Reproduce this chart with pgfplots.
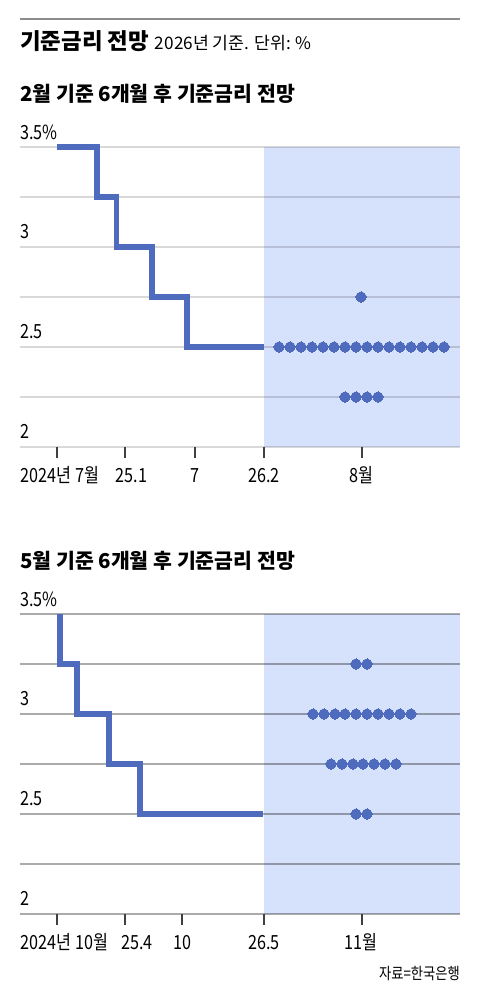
\documentclass[border=0pt]{standalone}
\usepackage{fontspec}
\setmainfont{Noto Sans CJK KR}
\newfontfamily\narrow{Noto Sans CJK KR}[FakeStretch=0.83]
\usepackage{pgfplots}
\usepackage{pgfplotstable}
\pgfplotsset{compat=1.18}

\definecolor{linecol}{RGB}{79,107,189}
\definecolor{shade}{RGB}{214,225,252}
\definecolor{rule}{RGB}{140,140,140}

% step line: x in pixel positions along the time axis
\pgfplotstableread{
x y
57 3.5
97 3.25
116.5 3.0
152 2.75
187 2.5
264 2.5
}\stepA
\pgfplotstableread{
x y
60 3.5
60 3.25
77 3.0
109 2.75
140 2.5
262.7 2.5
}\stepB

\pgfplotsset{
  panel/.style={
    scale only axis, width=440pt, height=300pt,
    xmin=20, xmax=460, ymin=2, ymax=3.5,
    clip=false, set layers,
    axis line style={draw=none},
    ytick={2,2.25,2.5,2.75,3,3.25,3.5}, yticklabels={},
    ytick style={draw=none}, ymajorgrids,
    xticklabels={}, xtick pos=bottom, tick align=outside,
    major tick length=11pt,
    xtick style={draw=black!75, line width=1.2pt},
  },
  dots/.style={only marks, mark=*, mark size=5.2pt, color=linecol,
    mark options={draw=linecol, fill=linecol, line width=0pt}},
  stepline/.style={const plot, draw=linecol, line width=5.3pt,
    line join=miter, line cap=butt, mark=none},
}
\tikzset{lab/.style={inner sep=0pt, font=\narrow\fontsize{19.5}{22}\selectfont}}

\begin{document}
\begin{tikzpicture}
\path (0pt,0pt) rectangle (480pt,1000pt);
\draw[rule, line width=2pt] (20pt,980.5pt) -- (460pt,980.5pt);
\node[anchor=base west, inner sep=0pt] at (20pt,950pt)
  {{\fontsize{22.4}{25}\bfseries 기준금리 전망}\hspace{6pt}{\fontsize{17.2}{20}\selectfont 2026년 기준. 단위: \%}};
\node[anchor=base west, inner sep=0pt, font=\fontsize{20.5}{24}\bfseries] at (20pt,898pt)
  {2월 기준 6개월 후 기준금리 전망};
\node[anchor=base west, inner sep=0pt, font=\fontsize{20.5}{24}\bfseries] at (20pt,431pt)
  {5월 기준 6개월 후 기준금리 전망};
\node[anchor=base east, inner sep=0pt, font=\narrow\fontsize{16}{18}\selectfont] at (460pt,20pt)
  {자료=한국은행};

% panel 1
\begin{axis}[panel, at={(20pt,553pt)}, anchor=south west,
  xtick={57,125,195,264,362},
  grid style={black, opacity=0.15, line width=2pt}]
\addplot[fill=shade, draw=none, on layer=axis background]
  coordinates {(264,2) (460,2) (460,3.5) (264,3.5)} -- cycle;
\addplot[stepline] table[x=x, y=y] {\stepA};
\addplot[dots] coordinates {(361,2.75)};
\addplot[dots] coordinates {
  (279,2.5)(290,2.5)(301,2.5)(312,2.5)(323,2.5)(334,2.5)(345,2.5)(356,2.5)
  (367,2.5)(378,2.5)(389,2.5)(400,2.5)(411,2.5)(422,2.5)(433,2.5)(444,2.5)};
\addplot[dots] coordinates {(345,2.25)(356,2.25)(367,2.25)(378,2.25)};
\node[lab, anchor=base west, yshift=7.5pt] at (axis cs:20,3.5) {3.5\%};
\node[lab, anchor=base west, yshift=8pt] at (axis cs:20,3) {3};
\node[lab, anchor=base west, yshift=8pt] at (axis cs:20,2.5) {2.5};
\node[lab, anchor=base west, yshift=8pt] at (axis cs:20,2) {2};
\node[lab, anchor=base west, yshift=-36pt] at (axis cs:20.5,2) {2024년 7월};
\node[lab, anchor=base, yshift=-36pt] at (axis cs:131.5,2) {25.1};
\node[lab, anchor=base, yshift=-36pt] at (axis cs:195,2) {7};
\node[lab, anchor=base, yshift=-36pt] at (axis cs:264,2) {26.2};
\node[lab, anchor=base, yshift=-36pt] at (axis cs:361,2) {8월};
\end{axis}

% panel 2
\begin{axis}[panel, at={(20pt,86pt)}, anchor=south west,
  xtick={57,125,182,264,362},
  grid style={black, opacity=0.33, line width=1.3pt}]
\addplot[fill=shade, draw=none, on layer=axis background]
  coordinates {(264,2) (460,2) (460,3.5) (264,3.5)} -- cycle;
\addplot[stepline] table[x=x, y=y] {\stepB};
\addplot[dots] coordinates {(356,3.25)(367,3.25)};
\addplot[dots] coordinates {
  (313,3)(324,3)(335,3)(345,3)(356,3)(367,3)(378,3)(389,3)(400,3)(411,3)};
\addplot[dots] coordinates {
  (331,2.75)(342,2.75)(353,2.75)(363,2.75)(374,2.75)(385,2.75)(396,2.75)};
\addplot[dots] coordinates {(356,2.5)(367,2.5)};
\node[lab, anchor=base west, yshift=7.5pt] at (axis cs:20,3.5) {3.5\%};
\node[lab, anchor=base west, yshift=8pt] at (axis cs:20,3) {3};
\node[lab, anchor=base west, yshift=8pt] at (axis cs:20,2.5) {2.5};
\node[lab, anchor=base west, yshift=8pt] at (axis cs:20,2) {2};
\node[lab, anchor=base west, yshift=-36pt] at (axis cs:20.5,2) {2024년 10월};
\node[lab, anchor=base, yshift=-36pt] at (axis cs:137,2) {25.4};
\node[lab, anchor=base, yshift=-36pt] at (axis cs:182,2) {10};
\node[lab, anchor=base, yshift=-36pt] at (axis cs:264,2) {26.5};
\node[lab, anchor=base, yshift=-36pt] at (axis cs:361,2) {11월};
\end{axis}
\end{tikzpicture}
\end{document}
